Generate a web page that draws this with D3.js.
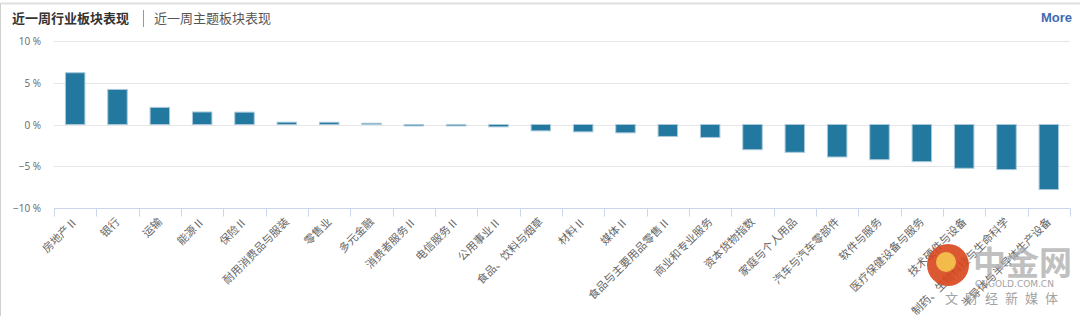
<!DOCTYPE html>
<html>
<head>
<meta charset="utf-8">
<script src="https://cdn.jsdelivr.net/npm/d3@7"></script>
<style>
  body { margin: 0; background: #fff; font-family: "Noto Sans CJK SC", "Noto Sans", sans-serif; }
  svg { display: block; }
</style>
</head>
<body>
<div id="chart"></div>
<script>
// sectors, weekly change in %
const categories = ["房地产Ⅱ", "银行", "运输", "能源Ⅱ", "保险Ⅱ", "耐用消费品与服装", "零售业", "多元金融",
    "消费者服务Ⅱ", "电信服务Ⅱ", "公用事业Ⅱ", "食品、饮料与烟草", "材料Ⅱ", "媒体Ⅱ", "食品与主要用品零售Ⅱ",
    "商业和专业服务", "资本货物指数", "家庭与个人用品", "汽车与汽车零部件", "软件与服务", "医疗保健设备与服务",
    "技术硬件与设备", "制药、生物科技与生命科学", "半导体与半导体生产设备"];
const values = [6.2, 4.2, 2.05, 1.5, 1.48, 0.28, 0.27, 0.15, -0.17, -0.17, -0.28, -0.76, -0.88, -1.0, -1.43,
    -1.55, -3.02, -3.33, -3.89, -4.21, -4.45, -5.24, -5.4, -7.79];
const yTicks = [10, 5, 0, -5, -10];
const tabs = ["近一周行业板块表现", "近一周主题板块表现"];

const width = 1080, height = 316;
const margin = { left: 54, right: 10, top: 41, bottom: 108 };
const innerWidth = width - margin.left - margin.right,
    innerHeight = height - margin.top - margin.bottom;

const data = categories.map((c, i) => ({ name: c, value: values[i] }));

const svg = d3.select("#chart").append("svg")
    .attr("width", width)
    .attr("height", height);

// frame
svg.append("line").attr("x1", 0).attr("x2", width).attr("y1", 3.5).attr("y2", 3.5)
    .attr("stroke", "#e0e0e0").attr("stroke-width", 2);
svg.append("line").attr("x1", 0.5).attr("x2", 0.5).attr("y1", 4).attr("y2", height)
    .attr("stroke", "#d0d0d0");

// header tabs
svg.append("text").attr("x", 12).attr("y", 23)
    .style("font-size", "13px").style("font-weight", "bold").attr("fill", "#333")
    .text(tabs[0]);
svg.append("line").attr("x1", 143.5).attr("x2", 143.5).attr("y1", 10).attr("y2", 27)
    .attr("stroke", "#999");
svg.append("text").attr("x", 154).attr("y", 23)
    .style("font-size", "13px").attr("fill", "#555")
    .text(tabs[1]);
svg.append("text").attr("x", 1072).attr("y", 22).attr("text-anchor", "end")
    .style("font-family", "Arial, 'Liberation Sans', sans-serif")
    .style("font-size", "13px").style("font-weight", "bold").attr("fill", "#3d6bb3")
    .text("More");

const g = svg.append("g")
    .attr("transform", "translate(" + margin.left + "," + margin.top + ")");

const xScale = d3.scaleBand()
    .domain(categories)
    .range([0, innerWidth])
    .paddingInner(0.54)
    .paddingOuter(0.27);

const yScale = d3.scaleLinear()
    .domain([-10, 10])
    .range([innerHeight, 0]);

// grid lines
g.selectAll(".grid")
    .data(yTicks.filter(d => d !== -10))
    .enter().append("line")
    .attr("class", "grid")
    .attr("x1", 0).attr("x2", innerWidth)
    .attr("y1", d => Math.round(yScale(d)) + 0.5)
    .attr("y2", d => Math.round(yScale(d)) + 0.5)
    .attr("stroke", "#e6e6e6");

// y labels
g.selectAll(".ylab")
    .data(yTicks)
    .enter().append("text")
    .attr("class", "ylab")
    .attr("x", -13)
    .attr("y", d => yScale(d) + 4)
    .attr("text-anchor", "end")
    .style("font-family", "'Open Sans', 'DejaVu Sans', sans-serif")
    .style("font-size", "10px")
    .attr("fill", "#666")
    .text(d => (d < 0 ? "−" + Math.abs(d) : d) + " %");

// x axis
const xAxis = g.append("g")
    .attr("transform", "translate(0," + (innerHeight + 0.5) + ")");
xAxis.append("line").attr("x1", 0).attr("x2", innerWidth)
    .attr("stroke", "#ccd6eb");
const step = xScale.step();
xAxis.selectAll(".tick")
    .data(d3.range(categories.length + 1))
    .enter().append("line")
    .attr("x1", i => Math.round(i * step) + 0.5)
    .attr("x2", i => Math.round(i * step) + 0.5)
    .attr("y1", 0).attr("y2", 8)
    .attr("stroke", "#ccd6eb");

xAxis.selectAll(".xlab")
    .data(categories)
    .enter().append("text")
    .attr("class", "xlab")
    .attr("transform", d => "translate(" + (xScale(d) + xScale.bandwidth() / 2 + 3) + ",14) rotate(-45)")
    .attr("text-anchor", "end")
    .style("font-size", "11px")
    .attr("fill", "#666")
    .text(d => d);

// bars
g.selectAll(".bar")
    .data(data)
    .enter().append("rect")
    .attr("class", "bar")
    .attr("x", d => xScale(d.name))
    .attr("width", xScale.bandwidth())
    .attr("y", d => yScale(Math.max(0, d.value)))
    .attr("height", d => Math.abs(yScale(d.value) - yScale(0)))
    .attr("fill", "#22789f")
    .attr("stroke", "#a9c9da")
    .attr("stroke-width", 1);

// watermark
const wm = svg.append("g").attr("opacity", 0.9);
wm.append("circle").attr("cx", 948).attr("cy", 265).attr("r", 21).attr("fill", "#d9461c");
wm.append("circle").attr("cx", 946).attr("cy", 262).attr("r", 10).attr("fill", "#f2b437");
wm.append("text").attr("x", 973).attr("y", 275)
    .style("font-size", "33px").style("font-weight", "bold").attr("fill", "#aaa").attr("opacity", 0.8)
    .text("中金网");
wm.append("text").attr("x", 975).attr("y", 287)
    .style("font-family", "'DejaVu Sans', sans-serif")
    .style("font-size", "9px").attr("fill", "#999")
    .text("CNGOLD.COM.CN");
wm.append("text").attr("x", 945).attr("y", 303)
    .style("font-size", "13px").attr("fill", "#999").attr("letter-spacing", "7px")
    .text("文财经新媒体");
</script>
</body>
</html>
